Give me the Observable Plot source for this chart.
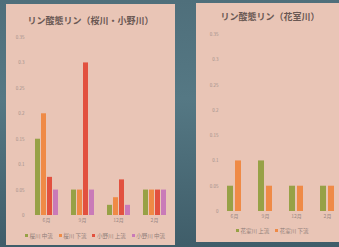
<!DOCTYPE html>
<html><head><meta charset="utf-8">
<script src="https://cdn.jsdelivr.net/npm/d3@7"></script>
<script src="https://cdn.jsdelivr.net/npm/@observablehq/plot@0.6"></script>
<style>
html,body{margin:0;padding:0;}
body{width:339px;height:247px;overflow:hidden;position:relative;
 background:linear-gradient(180deg,#4f6f7b 0%,#557884 40%,#3f5d69 100%);
 font-family:"Noto Sans CJK JP","Noto Sans",sans-serif;}
.panel{position:absolute;background:#e9c5b6;overflow:hidden;}
.title{position:absolute;left:0;right:0;text-align:center;font-weight:bold;color:#6a5853;font-size:9px;white-space:nowrap;}
.panel svg{position:absolute;left:0;top:0;}
.leg{position:absolute;font-size:5.5px;color:#8f7d78;white-space:nowrap;}
.leg span.it{display:inline-flex;align-items:center;margin-right:6px;}
.leg span.sw{display:inline-block;width:3px;height:3px;margin-right:1.5px;}
</style></head>
<body>
<div id="p1" class="panel" style="left:6px;top:4px;width:169px;height:241px;">
  <div class="title" style="top:10px;">リン酸態リン（桜川・小野川）</div>
</div>
<div id="p2" class="panel" style="left:196px;top:3px;width:160px;height:239px;">
  <div class="title" style="top:7px;width:148px;">リン酸態リン（花室川）</div>
</div>
<script>
// shared
const months = ["6月", "9月", "12月", "2月"];
const yTicks = [0, 0.05, 0.1, 0.15, 0.2, 0.25, 0.3, 0.35];

// left chart: 桜川・小野川
const seriesA = ["桜川 中流", "桜川 下流", "小野川 上流", "小野川 中流"];
const colorsA = ["#97a146", "#ef8a46", "#e2513f", "#c97ab8"];
const valsA_sakura_mid = [0.15, 0.05, 0.02, 0.05];
const valsA_sakura_low = [0.2, 0.05, 0.035, 0.05];
const valsA_ono_up     = [0.075, 0.30, 0.07, 0.05];
const valsA_ono_mid    = [0.05, 0.05, 0.02, 0.05];

// right chart: 花室川
const seriesB = ["花室川 上流", "花室川 下流"];
const colorsB = ["#97a146", "#ef8a46"];
const valsB_up  = [0.05, 0.1, 0.05, 0.05];
const valsB_low = [0.1, 0.05, 0.05, 0.05];

function rows(series, lists) {
  const out = [];
  months.forEach((m, i) => series.forEach((s, j) => out.push({month: m, series: s, value: lists[j][i]})));
  return out;
}
const dataA = rows(seriesA, [valsA_sakura_mid, valsA_sakura_low, valsA_ono_up, valsA_ono_mid]);
const dataB = rows(seriesB, [valsB_up, valsB_low]);

function chart(data, series, colors, o) {
  return Plot.plot({
    width: o.width, height: o.height,
    marginTop: o.mt, marginBottom: o.mb, marginLeft: o.ml, marginRight: o.mr,
    style: {background: "transparent", fontFamily: "'Noto Sans CJK JP','Noto Sans',sans-serif", color: "#9a8783", overflow: "visible"},
    fx: {domain: months, paddingInner: o.pi, paddingOuter: o.po, label: null},
    x: {domain: series, paddingInner: 0.25, paddingOuter: 0, axis: null},
    y: {domain: [0, 0.35], label: null},
    color: {domain: series, range: colors},
    marks: [
      Plot.axisY({ticks: yTicks, tickFormat: d => String(d), tickSize: 0, tickPadding: o.tp, fontSize: 4.5, label: null, fill: "#a08f8a"}),
      Plot.axisFx({anchor: "bottom", tickSize: 0, tickPadding: 3, fontSize: 5, label: null, fill: "#9a8783"}),
      Plot.barY(data, {fx: "month", x: "series", y: "value", fill: "series"})
    ]
  });
}

function legend(series, colors, left, top) {
  const d = document.createElement("div");
  d.className = "leg";
  d.style.left = left + "px"; d.style.top = top + "px";
  series.forEach((s, i) => {
    const it = document.createElement("span"); it.className = "it";
    const sw = document.createElement("span"); sw.className = "sw"; sw.style.background = colors[i];
    it.appendChild(sw); it.appendChild(document.createTextNode(s));
    d.appendChild(it);
  });
  return d;
}

const p1 = document.getElementById("p1");
p1.insertBefore(chart(dataA, seriesA, colorsA, {width: 169, height: 241, mt: 33, mb: 30, ml: 22, mr: 3, pi: 0.278, po: 0.139, tp: 9}), p1.firstChild);
p1.appendChild(legend(seriesA, colorsA, 19, 227));

const p2 = document.getElementById("p2");
p2.insertBefore(chart(dataB, seriesB, colorsB, {width: 160, height: 239, mt: 31, mb: 31, ml: 21, mr: 12, pi: 0.56, po: 0.28, tp: 9}), p2.firstChild);
p2.appendChild(legend(seriesB, colorsB, 40, 223));
</script>
</body></html>
